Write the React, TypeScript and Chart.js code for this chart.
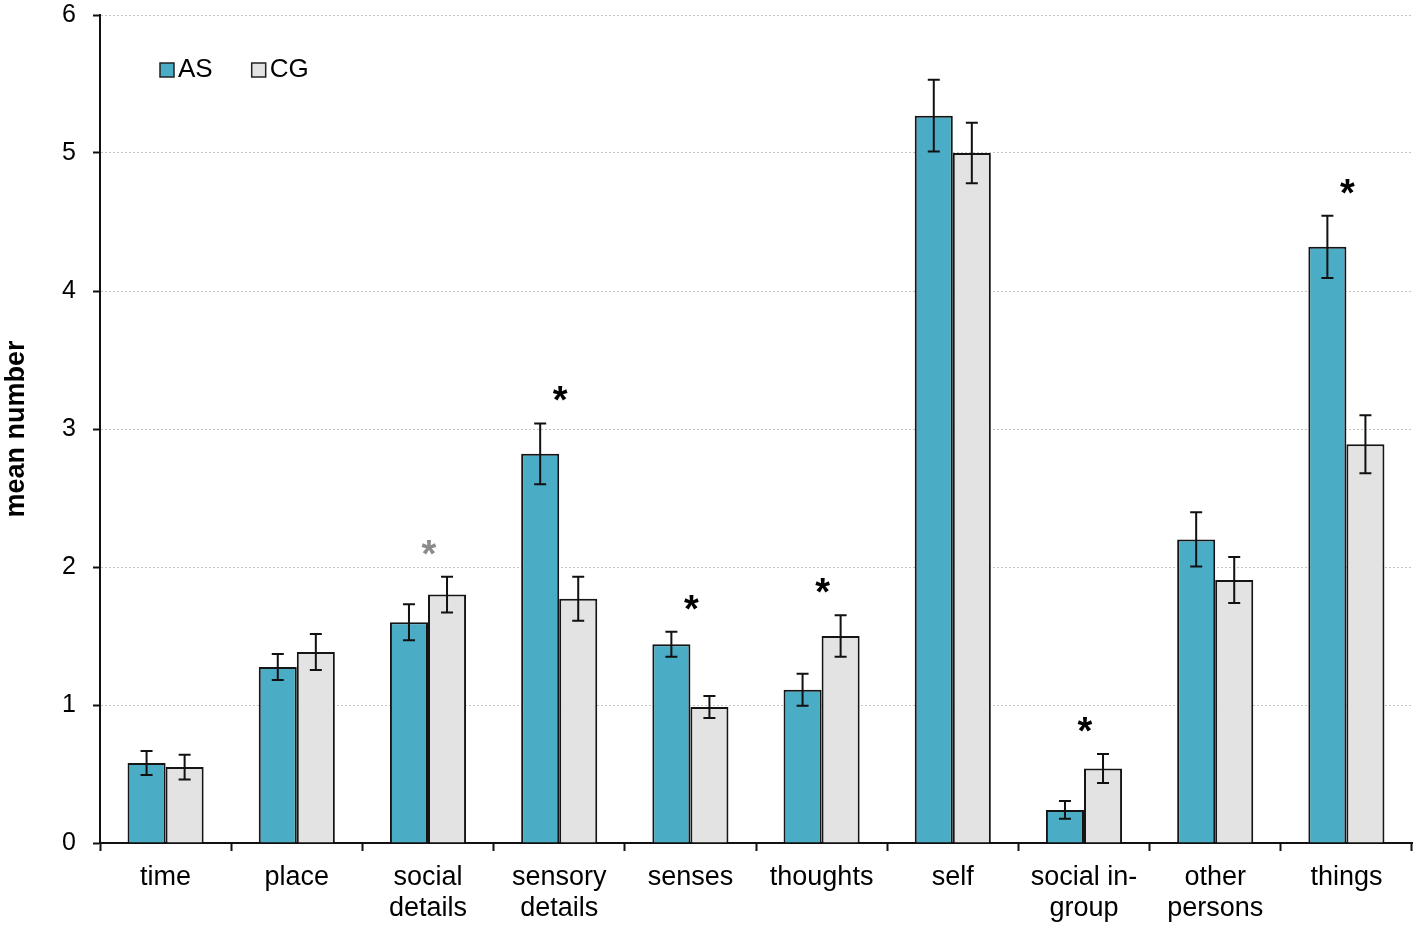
import React, { useEffect, useRef } from 'react';
import { Chart, registerables } from 'chart.js';

Chart.register(...registerables);

const categories: string[][] = [
  ['time'],
  ['place'],
  ['social', 'details'],
  ['sensory', 'details'],
  ['senses'],
  ['thoughts'],
  ['self'],
  ['social in-', 'group'],
  ['other', 'persons'],
  ['things'],
];
const seriesNames = ['AS', 'CG'];
const asMeans = [0.58, 1.275, 1.6, 2.82, 1.44, 1.11, 5.27, 0.24, 2.2, 4.32];
const asErrors = [0.087, 0.094, 0.13, 0.22, 0.09, 0.116, 0.26, 0.065, 0.196, 0.225];
const cgMeans = [0.55, 1.384, 1.8, 1.77, 0.986, 1.5, 5.0, 0.54, 1.906, 2.89];
const cgErrors = [0.09, 0.13, 0.13, 0.16, 0.08, 0.15, 0.22, 0.105, 0.167, 0.21];
// '' = none, 'sig' = significant (black *), 'trend' = grey *
const significance = ['', '', 'trend', 'sig', 'sig', 'sig', '', 'sig', '', 'sig'];
const yMin = 0;
const yMax = 6;
const yStep = 1;

const FONT = "'Liberation Sans', Arial, Helvetica, sans-serif";
const AS_COLOR = '#4BACC6';
const CG_COLOR = '#E3E3E3';
const EDGE = '#151515';

const errorsByDataset = [asErrors, cgErrors];
const meansByDataset = [asMeans, cgMeans];

const errorBarPlugin = {
  id: 'errorBars',
  afterDatasetsDraw(chart: any) {
    const { ctx } = chart;
    const yScale = chart.scales.y;
    const xScale = chart.scales.x;
    ctx.save();
    ctx.strokeStyle = '#111';
    ctx.lineWidth = 2;
    meansByDataset.forEach((means, di) => {
      const meta = chart.getDatasetMeta(di);
      meta.data.forEach((bar: any, j: number) => {
        const m = means[j];
        const e = errorsByDataset[di][j];
        const x = bar.x;
        const yt = yScale.getPixelForValue(m + e);
        const yb = yScale.getPixelForValue(m - e);
        ctx.beginPath();
        ctx.moveTo(x, yt);
        ctx.lineTo(x, yb);
        ctx.moveTo(x - 6, yt);
        ctx.lineTo(x + 6, yt);
        ctx.moveTo(x - 6, yb);
        ctx.lineTo(x + 6, yb);
        ctx.stroke();
      });
    });
    // significance asterisks
    ctx.font = `bold 38px ${FONT}`;
    ctx.textAlign = 'center';
    ctx.textBaseline = 'alphabetic';
    significance.forEach((s, j) => {
      if (!s) return;
      const top = Math.max(asMeans[j] + asErrors[j], cgMeans[j] + cgErrors[j]);
      const x = xScale.getPixelForValue(j) + 1;
      const yc = yScale.getPixelForValue(top) - 32;
      ctx.fillStyle = s === 'trend' ? '#8c8c8c' : '#000';
      ctx.fillText('*', x, yc + 22);
    });
    ctx.restore();
  },
  afterDraw(chart: any) {
    const { ctx } = chart;
    const area = chart.chartArea;
    ctx.save();
    ctx.font = `26px ${FONT}`;
    ctx.textBaseline = 'middle';
    ctx.textAlign = 'left';
    let x = area.left + 60;
    const y = area.top + 55;
    chart.data.datasets.forEach((ds: any) => {
      ctx.fillStyle = ds.backgroundColor;
      ctx.fillRect(x, y - 7, 14, 14);
      ctx.strokeStyle = '#222';
      ctx.lineWidth = 1.5;
      ctx.strokeRect(x, y - 7, 14, 14);
      ctx.fillStyle = '#000';
      ctx.fillText(ds.label, x + 18, y);
      x += 18 + ctx.measureText(ds.label).width + 39;
    });
    ctx.restore();
  },
};

export default function App() {
  const canvasRef = useRef<HTMLCanvasElement | null>(null);

  useEffect(() => {
    if (!canvasRef.current) return;
    const chart = new Chart(canvasRef.current, {
      type: 'bar',
      data: {
        labels: categories,
        datasets: [
          {
            label: seriesNames[0],
            data: asMeans,
            backgroundColor: AS_COLOR,
            borderColor: EDGE,
            borderWidth: 2,
            categoryPercentage: 0.58,
            barPercentage: 1.0,
          },
          {
            label: seriesNames[1],
            data: cgMeans,
            backgroundColor: CG_COLOR,
            borderColor: EDGE,
            borderWidth: 2,
            categoryPercentage: 0.58,
            barPercentage: 1.0,
          },
        ],
      },
      options: {
        animation: false,
        responsive: true,
        maintainAspectRatio: false,
        layout: { padding: { left: 0, top: 15, right: 5, bottom: 0 } },
        plugins: {
          legend: { display: false },
          tooltip: { enabled: false },
        },
        scales: {
          x: {
            grid: {
              display: true,
              drawOnChartArea: false,
              drawTicks: true,
              tickLength: 8,
              tickColor: '#111',
              tickWidth: 2,
              offset: true,
            },
            border: { display: true, color: '#111', width: 2 },
            ticks: {
              color: '#000',
              font: { family: FONT, size: 27, lineHeight: 1.15 },
              padding: 11,
              maxRotation: 0,
              autoSkip: false,
            },
            afterFit(scale: any) {
              scale.height = 82;
            },
          },
          y: {
            min: yMin,
            max: yMax,
            grid: {
              color: '#c4c4c4',
              lineWidth: 1,
              drawTicks: true,
              tickLength: 7,
              tickColor: '#111',
              tickWidth: 2,
              tickBorderDash: [],
            },
            border: { display: true, color: '#111', width: 2, dash: [2, 2] },
            ticks: {
              stepSize: yStep,
              color: '#000',
              font: { family: FONT, size: 25 },
              padding: 17,
            },
            title: {
              display: true,
              text: 'mean number',
              color: '#000',
              font: { family: FONT, size: 27, weight: 'bold' },
              padding: 0,
            },
            afterFit(scale: any) {
              scale.width = 100;
              scale.paddingTop = 0;
              scale.paddingBottom = 0;
            },
          },
        },
      },
      plugins: [errorBarPlugin],
    } as any);
    return () => chart.destroy();
  }, []);

  return (
    <div style={{ position: 'absolute', left: 0, top: 0, width: 1417, height: 925, background: '#fff' }}>
      <canvas ref={canvasRef} />
    </div>
  );
}
